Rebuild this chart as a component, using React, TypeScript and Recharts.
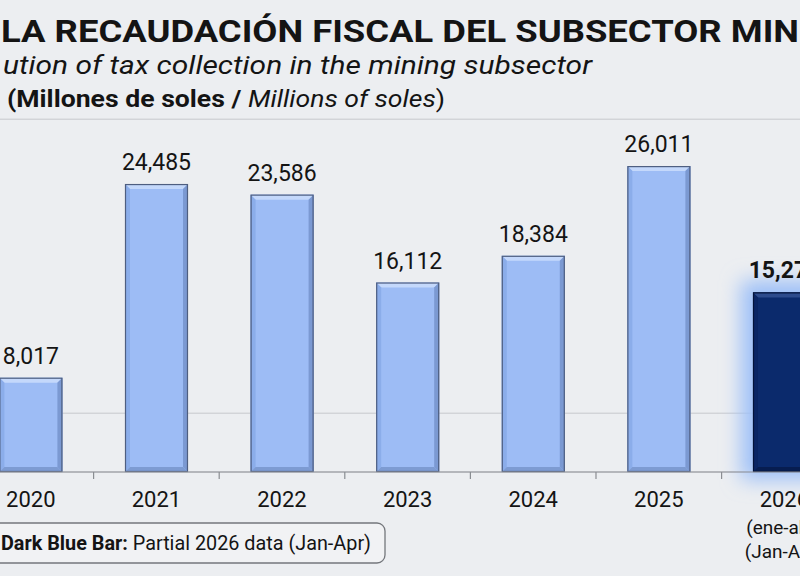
import { BarChart, Bar, XAxis, YAxis, CartesianGrid, LabelList } from 'recharts'

// Recaudación fiscal del subsector minero, millones de soles
const years = ['2020', '2021', '2022', '2023', '2024', '2025', '2026']
const collection = [8017, 24485, 23586, 16112, 18384, 26011, 15274]
const partialYear = '2026'
const partialNotes = ['(ene-abr)', '(Jan-Apr)']
const gridTicks = [0, 5000]

const data = years.map((year, i) => ({ year, value: collection[i], partial: year === partialYear }))

// the picture is a crop of a wider chart, so the plot runs past both edges
const CHART_LEFT = -31.6
const CHART_WIDTH = 879.2
const BAND = CHART_WIDTH / years.length
const FONT = 'Roboto, "Liberation Sans", Arial, sans-serif'

function BevelBar(props: any) {
  const { x, y, width: w, height: h, payload } = props
  if (!h || h <= 0) return null
  const b = 5
  const dark = payload.partial
  const c = dark
    ? { main: '#0b2a6c', top: '#2d4b8c', left: '#0a2563', right: '#061b4d', bottom: '#071d50', edge: '#03133a' }
    : { main: '#9dbcf5', top: '#c4d8fb', left: '#8badea', right: '#7b99d2', bottom: '#7d9bd2', edge: '#4e5e80' }
  return (
    <g>
      {dark && (
        <>
          <defs>
            <filter id="glow" x="-60%" y="-60%" width="220%" height="220%">
              <feGaussianBlur stdDeviation="10" />
            </filter>
          </defs>
          <rect x={x - 12} y={y - 12} width={w + 24} height={h + 20} fill="#9dc0f8" filter="url(#glow)" />
        </>
      )}
      <rect x={x} y={y} width={w} height={h} fill={c.main} />
      <polygon points={`${x},${y} ${x + w},${y} ${x + w - b},${y + b} ${x + b},${y + b}`} fill={c.top} />
      <polygon points={`${x},${y} ${x + b},${y + b} ${x + b},${y + h - b} ${x},${y + h}`} fill={c.left} />
      <polygon points={`${x + w},${y} ${x + w},${y + h} ${x + w - b},${y + h - b} ${x + w - b},${y + b}`} fill={c.right} />
      <polygon points={`${x},${y + h} ${x + w},${y + h} ${x + w - b},${y + h - b} ${x + b},${y + h - b}`} fill={c.bottom} />
      <rect x={x + 0.5} y={y + 0.5} width={w - 1} height={h - 1} fill="none" stroke={c.edge} strokeWidth={1.2} />
    </g>
  )
}

function YearTick(props: any) {
  const { x, y, payload, index } = props
  const year = payload.value
  return (
    <g>
      {index < years.length - 1 && (
        <line x1={x + BAND / 2} x2={x + BAND / 2} y1={y} y2={y + 7} stroke="#8a8d92" strokeWidth={1.2} />
      )}
      <text x={x} y={y + 35} textAnchor="middle" fontSize={22} fill="#141414" fontFamily={FONT}>
        {year}
      </text>
      {year === partialYear &&
        partialNotes.map((note, i) => (
          <text key={note} x={x} y={y + 62 + i * 24} textAnchor="middle" fontSize={19} fill="#141414" fontFamily={FONT}>
            {note}
          </text>
        ))}
    </g>
  )
}

function ValueLabel(props: any) {
  const { x, y, width, value, index } = props
  const bold = years[index] === partialYear
  return (
    <text
      x={x + width / 2}
      y={y - 14}
      textAnchor="middle"
      fontSize={23}
      fontWeight={bold ? 700 : 400}
      fill="#141414"
      fontFamily={FONT}
    >
      {Number(value).toLocaleString('en-US')}
    </text>
  )
}

export default function App() {
  return (
    <div
      style={{
        position: 'absolute',
        left: 0,
        top: 0,
        width: 800,
        height: 576,
        overflow: 'hidden',
        background: '#eceef1',
        fontFamily: FONT,
      }}
    >
      <div style={{ position: 'absolute', left: CHART_LEFT, top: 0 }}>
        <BarChart
          width={CHART_WIDTH}
          height={576}
          data={data}
          margin={{ top: 119.2, right: 0, bottom: 0, left: 0 }}
          barCategoryGap="25%"
        >
          <CartesianGrid vertical={false} stroke="#c6c8cc" />
          <XAxis
            dataKey="year"
            height={104}
            interval={0}
            tickLine={false}
            tickSize={0}
            tickMargin={0}
            axisLine={{ stroke: '#8f9297', strokeWidth: 1.2 }}
            tick={<YearTick />}
          />
          <YAxis hide domain={[0, 30000]} ticks={gridTicks} />
          <Bar dataKey="value" shape={<BevelBar />} isAnimationActive={false}>
            <LabelList dataKey="value" content={<ValueLabel />} />
          </Bar>
        </BarChart>
      </div>

      <svg width={800} height={576} style={{ position: 'absolute', left: 0, top: 0, pointerEvents: 'none' }}>
        <text x={-7} y={42} textAnchor="end" fontSize={31} fontWeight={700} fill="#141414" fontFamily={FONT}>
          EVOLUCIÓN DE
        </text>
        <text x={1} y={42} fontSize={31} fontWeight={700} fill="#141414" fontFamily={FONT}>
          <tspan textLength={798} lengthAdjust="spacingAndGlyphs">
            LA RECAUDACIÓN FISCAL DEL SUBSECTOR MIN
          </tspan>
          <tspan>ERO</tspan>
        </text>
        <text x={-1} y={74} textAnchor="end" fontSize={25} fontStyle="italic" fill="#141414" fontFamily={FONT}>
          Evol
        </text>
        <text
          x={3}
          y={74}
          fontSize={25}
          fontStyle="italic"
          fill="#141414"
          fontFamily={FONT}
          textLength={589}
          lengthAdjust="spacingAndGlyphs"
        >
          ution of tax collection in the mining subsector
        </text>
        <text
          x={7}
          y={107}
          fontSize={24}
          fill="#141414"
          fontFamily={FONT}
          textLength={438}
          lengthAdjust="spacingAndGlyphs"
        >
          <tspan fontWeight={700}>(Millones de soles / </tspan>
          <tspan fontStyle="italic">Millions of soles</tspan>
          <tspan>)</tspan>
        </text>

        <rect x={-40} y={523} width={425} height={40} rx={8} fill="#f1f2f4" stroke="#74777c" strokeWidth={1.3} />
        <text
          x={1}
          y={550}
          fontSize={19.5}
          fill="#141414"
          fontFamily={FONT}
          textLength={370}
          lengthAdjust="spacingAndGlyphs"
        >
          <tspan fontWeight={700}>Dark Blue Bar:</tspan>
          <tspan> Partial 2026 data (Jan-Apr)</tspan>
        </text>
      </svg>
    </div>
  )
}
